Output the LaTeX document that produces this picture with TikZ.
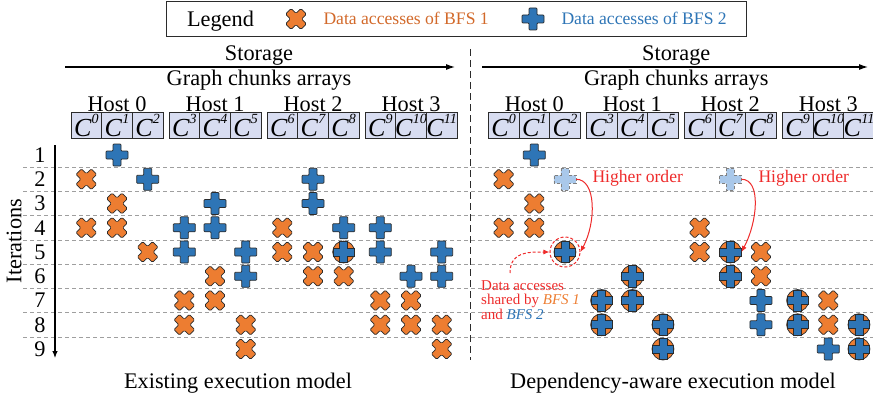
\documentclass[tikz,border=0pt]{standalone}
\usepackage{fontspec}
\setmainfont{Liberation Serif}
\newfontfamily\annofont{Liberation Serif}
\usetikzlibrary{arrows.meta}

\definecolor{bfsorange}{HTML}{ED7D31}
\definecolor{bfsblue}{HTML}{2E75B6}
\definecolor{bfslight}{HTML}{A9C8EA}
\definecolor{chunkfill}{HTML}{D8DDF1}
\definecolor{annored}{HTML}{EE2B2B}
\definecolor{legorange}{HTML}{D2692A}
\definecolor{markline}{HTML}{2B2B2B}

% plus outline: #1 half span, #2 half width
\newcommand{\crossshape}[2]{(-#2,-#1) -- (#2,-#1) -- (#2,-#2) -- (#1,-#2) -- (#1,#2) -- (#2,#2) -- (#2,#1) -- (-#2,#1) -- (-#2,#2) -- (-#1,#2) -- (-#1,-#2) -- (-#2,-#2) -- cycle}
\newcommand{\chunklabel}[1]{\textit{C}\raisebox{0.5em}{\annofont\fontsize{14}{14}\selectfont\itshape #1}}

\tikzset{
  bigtext/.style={font=\annofont\fontsize{22.3}{24}\selectfont},
  legtext/.style={font=\annofont\fontsize{17.6}{19}\selectfont},
  notetext/.style={font=\annofont\fontsize{15}{14.6}\selectfont},
  markspot/.style={circle, inner sep=0pt, minimum size=22pt},
  chunk/.style={draw=markline, fill=chunkfill, line width=0.8pt, inner sep=0pt, minimum width=30.67pt, minimum height=25.5pt},
  chunktext/.style={inner sep=0pt, font=\annofont\fontsize{26}{28}\selectfont},
  gridline/.style={draw=gray!75, line width=0.7pt, dash pattern=on 4pt off 3pt},
  annoarrow/.style={draw=annored, line width=1pt, -{Latex[length=6pt,width=5pt]}},
  pics/bfsone/.style={code={
    \filldraw[fill=bfsorange, draw=markline, line width=0.7pt, rounded corners=1.2pt, rotate=45] \crossshape{10.8}{3.9};
    \node[markspot] (-c) {};
  }},
  pics/bfstwo/.style={code={
    \filldraw[fill=bfsblue, draw=markline, line width=0.7pt, rounded corners=0.8pt] \crossshape{11}{4};
    \node[markspot] (-c) {};
  }},
  pics/bfslater/.style={code={
    \filldraw[fill=bfslight, draw=gray, densely dashed, line width=0.6pt] \crossshape{11}{4};
    \node[markspot] (-c) {};
  }},
  pics/bfsboth/.style={code={
    \filldraw[fill=bfsorange, draw=markline, line width=0.7pt] (0,0) circle (11);
    \filldraw[fill=bfsblue, draw=markline, line width=0.7pt] \crossshape{10.6}{4};
    \node[markspot] (-c) {};
  }},
}

\begin{document}
\begin{tikzpicture}[x=1pt, y=-1pt]
\useasboundingbox (0,0) rectangle (873,396);

% legend
\node[draw=markline, line width=1.1pt, inner sep=0pt, minimum width=580pt, minimum height=35pt] (legend) at (456.7,19) {};
\node[bigtext, anchor=base] (legtitle) at (220.5,26.5) {Legend};
\pic (leg1) at (296,19) {bfsone};
\node[legtext, anchor=base west, text=legorange] (legtxt1) at (320,25) {Data accesses of BFS 1};
\pic (leg2) at (533,19) {bfstwo};
\node[legtext, anchor=base west, text=bfsblue] (legtxt2) at (558,25) {Data accesses of BFS 2};

% iteration rows
\foreach \r in {1,...,8}
  \draw[gridline] (23,{142.875+24.25*\r}) -- (873,{142.875+24.25*\r});
\foreach \r in {1,...,9}
  \node[bigtext, inner sep=0pt] (it\r) at (40,{130.75+24.25*\r}) {\r};
\node[bigtext, rotate=90, inner sep=0pt] (itlabel) at (14,241) {Iterations};
\coordinate (ittop) at (55,145);
\coordinate (itbot) at (55,358);
\draw[line width=1.1pt, -{Latex[length=7pt,width=5.5pt]}] (ittop) -- (itbot);

% separator
\draw[draw=markline, line width=1.1pt, dash pattern=on 7pt off 4pt] (470.7,49) -- (470.7,360);

% storage headers and chunk arrays
\foreach \off/\pn/\aend in {0/L/455, 417.3/R/450.7} {
  \begin{scope}[xshift=\off pt]
    \coordinate (\pn-s0) at (65,67);
    \coordinate (\pn-s1) at (\aend,67);
    \draw[line width=1.1pt, -{Latex[length=9pt,width=6pt]}] (\pn-s0) -- (\pn-s1);
    \node[bigtext, anchor=base] (\pn-sto) at (259,60) {Storage};
    \node[bigtext, anchor=base] (\pn-gca) at (259,85) {Graph chunks arrays};
    \foreach \h in {0,...,3}
      \node[bigtext, anchor=base] (\pn-h\h) at ({117+98*\h},111) {Host \h};
    \foreach \k in {0,...,11} {
      \pgfmathsetmacro{\cx}{86.33+98*floor(\k/3)+30.67*mod(\k,3)}
      \node[chunk] (\pn-c\k) at (\cx,125.5) {};
      \node[chunktext] at (\pn-c\k) {\chunklabel{\k}};
    }
  \end{scope}
}

% existing execution model
\foreach \c/\r in {0/2,1/3,0/4,1/4,6/4,2/5,6/5,7/5,4/6,7/6,8/6,3/7,4/7,9/7,10/7,3/8,5/8,9/8,10/8,11/8,5/9,11/9} {
  \pgfmathsetmacro{\mx}{86.33+98*floor(\c/3)+30.67*mod(\c,3)}
  \pic at ({\mx},{130.75+24.25*\r}) {bfsone};
}
\foreach \c/\r in {1/1,2/2,7/2,4/3,7/3,3/4,4/4,8/4,9/4,3/5,5/5,9/5,11/5,5/6,10/6,11/6} {
  \pgfmathsetmacro{\mx}{86.33+98*floor(\c/3)+30.67*mod(\c,3)}
  \pic at ({\mx},{130.75+24.25*\r}) {bfstwo};
}
\pic (lsh) at (343.67,252) {bfsboth};

% dependency-aware execution model
\begin{scope}[xshift=417.3pt]
  \foreach \c/\r in {0/2,1/3,0/4,1/4,6/4,6/5,8/5,8/6,10/7,10/8} {
    \pgfmathsetmacro{\mx}{86.33+98*floor(\c/3)+30.67*mod(\c,3)}
    \pic at ({\mx},{130.75+24.25*\r}) {bfsone};
  }
  \foreach \c/\r in {1/1,8/7,8/8,10/9} {
    \pgfmathsetmacro{\mx}{86.33+98*floor(\c/3)+30.67*mod(\c,3)}
    \pic at ({\mx},{130.75+24.25*\r}) {bfstwo};
  }
  \foreach \c/\r in {4/6,7/6,3/7,4/7,9/7,3/8,5/8,9/8,11/8,5/9,11/9} {
    \pgfmathsetmacro{\mx}{86.33+98*floor(\c/3)+30.67*mod(\c,3)}
    \pic at ({\mx},{130.75+24.25*\r}) {bfsboth};
  }
  \pic (hi1) at (147.67,179.25) {bfslater};
  \pic (hi2) at (313,179.25) {bfslater};
  \pic (sh1) at (147.67,252) {bfsboth};
  \pic (sh2) at (313,252) {bfsboth};
\end{scope}

% annotations
\node[circle, draw=annored, line width=1pt, dash pattern=on 3pt off 2pt, minimum size=30pt] (ring1) at (sh1-c) {};
\node[legtext, anchor=base west, text=annored] (hitxt1) at (589,182.3) {Higher order};
\node[legtext, anchor=base west, text=annored] (hitxt2) at (755,182.3) {Higher order};
\draw[annoarrow] (hi1-c.east) .. controls +(20,0) and +(16,-30) .. (ring1.east);
\draw[annoarrow] (hi2-c.east) .. controls +(20,0) and +(16,-30) .. (sh2-c.east);
\node[notetext, anchor=north west, align=left, inner sep=0pt, text=annored] (note) at (481,280)
  {Data accesses\\shared by \textcolor{bfsorange}{\itshape BFS 1}\\and \textcolor{bfsblue}{\itshape BFS 2}};
\draw[annoarrow, dash pattern=on 3pt off 2pt] ([xshift=29pt,yshift=7pt]note.north west) .. controls +(0,-22) and +(-20,0) .. (ring1.west);

% captions
\node[bigtext, anchor=base] (capL) at (238,388) {Existing execution model};
\node[bigtext, anchor=base] (capR) at (673,388) {Dependency-aware execution model};
\end{tikzpicture}
\end{document}
